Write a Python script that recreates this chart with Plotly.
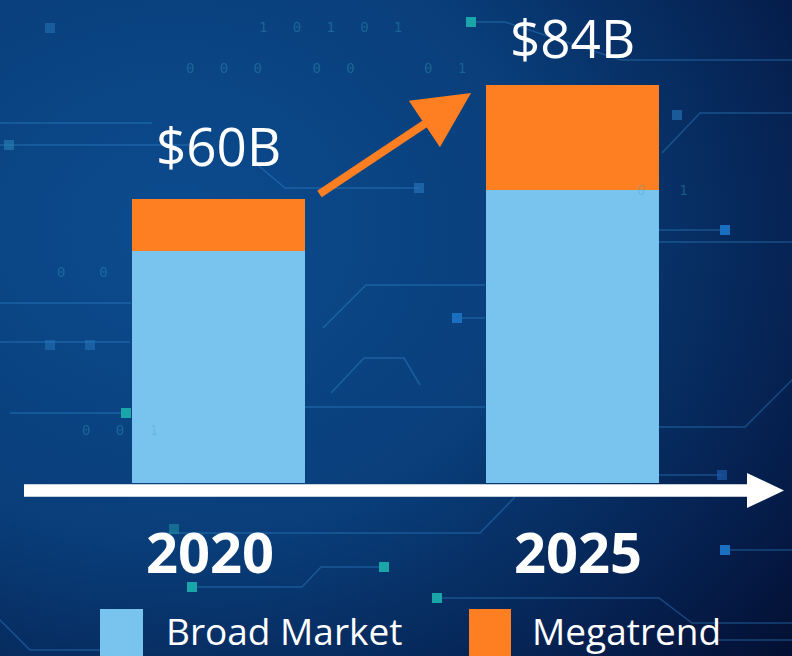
import base64
import plotly.graph_objects as go

# ---- data ----
years = ["2020", "2025"]
broad_market = [49, 62]
megatrend = [11, 22]
total_labels = ["$60B", "$84B"]
series_names = ["Broad Market", "Megatrend"]
series_colors = ["#79C4EE", "#FE7F22"]

W, H = 792, 656
FONT = "Open Sans"

# pixel helpers for decorations (layout only)
def px(x):
    return x / W

def py(y):
    return 1 - y / H

# ---- background gradient ----
svg = f"""<svg xmlns='http://www.w3.org/2000/svg' width='{W}' height='{H}'>
<defs><radialGradient id='g' cx='0.22' cy='0.35' r='1.05'>
<stop offset='0' stop-color='#0c4c8f'/>
<stop offset='0.45' stop-color='#093e7a'/>
<stop offset='0.8' stop-color='#051e4c'/>
<stop offset='1' stop-color='#030c2c'/>
</radialGradient></defs>
<rect width='{W}' height='{H}' fill='url(#g)'/>
</svg>"""
bg_uri = "data:image/svg+xml;base64," + base64.b64encode(svg.encode()).decode()

fig = go.Figure()
fig.add_trace(go.Bar(x=years, y=broad_market, name=series_names[0],
                     marker=dict(color=series_colors[0], line=dict(width=0)),
                     width=0.489, showlegend=False, hoverinfo="skip"))
fig.add_trace(go.Bar(x=years, y=megatrend, name=series_names[1],
                     marker=dict(color=series_colors[1], line=dict(width=0)),
                     width=0.489, showlegend=False, hoverinfo="skip"))

totals = [b + m for b, m in zip(broad_market, megatrend)]

annotations = []
# total labels above bars (category index positions)
label_shift = [54, 48]
for i, (tot, lab) in enumerate(zip(totals, total_labels)):
    annotations.append(dict(x=i, y=tot, xref="x", yref="y", text=lab,
                            showarrow=False, yanchor="middle", yshift=label_shift[i],
                            font=dict(family=FONT, size=53, color="white")))
# year labels under the axis arrow
year_shift = [-9, 5]
for i, yr in enumerate(years):
    annotations.append(dict(x=i, y=-14.3, xref="x", yref="y", text=f"<b>{yr}</b>",
                            showarrow=False, yanchor="middle", xshift=year_shift[i],
                            font=dict(family=FONT, size=56, color="white")))
# orange growth arrow
annotations.append(dict(x=px(471), y=py(93), xref="paper", yref="paper",
                        ax=-153, ay=102, axref="pixel", ayref="pixel", text="",
                        showarrow=True, arrowhead=2, arrowsize=1.4, arrowwidth=8,
                        arrowcolor=series_colors[1], standoff=0))
# legend texts
leg_text_x = [164, 530]
for name, lx in zip(series_names, leg_text_x):
    annotations.append(dict(x=px(lx), y=py(630), xref="paper", yref="paper",
                            text=name, showarrow=False, xanchor="left", yanchor="middle",
                            font=dict(family=FONT, size=37, color="white")))

# faint binary digits in background
binary = [("1   0   1   0   1", 330, 17), ("0   0   0      0   0", 270, 58),
          ("0   1", 445, 58), ("0    0", 55, 272), ("0   0   1", 80, 440),
          ("0    1", 690, 180)]
for txt, bx, by in binary:
    annotations.append(dict(x=px(bx), y=py(by), xref="paper", yref="paper", text=txt,
                            showarrow=False, font=dict(family="DejaVu Sans Mono", size=14,
                                                       color="rgba(60,170,200,0.35)")))

shapes = []
line_col = "rgba(50,140,210,0.4)"
circuit = [
    [(471, 22), (505, 22), (621, 60), (792, 60)],
    [(662, 153), (700, 113), (792, 113)],
    [(0, 123), (152, 123)],
    [(0, 145), (200, 145)],
    [(252, 160), (285, 188), (419, 188)],
    [(0, 303), (131, 303)],
    [(323, 328), (366, 285), (485, 285)],
    [(659, 230), (725, 230)],
    [(659, 242), (792, 242)],
    [(457, 318), (485, 318)],
    [(0, 342), (130, 342)],
    [(331, 393), (364, 358), (404, 358), (420, 385)],
    [(305, 407), (485, 407)],
    [(659, 427), (745, 427), (792, 380)],
    [(659, 475), (722, 475)],
    [(10, 413), (126, 413)],
    [(167, 533), (480, 533), (515, 497)],
    [(192, 587), (302, 587), (321, 567), (384, 567)],
    [(437, 598), (659, 598), (692, 623), (792, 623)],
    [(725, 550), (792, 550)],
    [(717, 640), (792, 640)],
    [(0, 620), (30, 650), (100, 650)],
]
for pts in circuit:
    path = "M " + " L ".join(f"{px(a):.5f},{py(b):.5f}" for a, b in pts)
    shapes.append(dict(type="path", xref="paper", yref="paper", path=path,
                       line=dict(color=line_col, width=1.5), layer="below"))
squares = [(471, 22, "#1aa6a8"), (677, 115, "rgba(40,120,190,0.6)"), (9, 145, "rgba(40,130,180,0.6)"),
           (50, 28, "rgba(40,120,190,0.5)"), (419, 188, "rgba(40,120,190,0.6)"),
           (725, 230, "#1a6fc0"), (457, 318, "#1a6fc0"), (722, 475, "rgba(30,90,170,0.7)"),
           (126, 413, "#1aa6a8"), (174, 529, "rgba(30,140,160,0.6)"), (192, 587, "#1aa6a8"),
           (384, 567, "#1aa6a8"), (437, 598, "#1aa6a8"), (725, 550, "#1a6fc0"),
           (50, 345, "rgba(40,120,190,0.5)"), (90, 345, "rgba(40,120,190,0.5)")]
for sx, sy, c in squares:
    shapes.append(dict(type="rect", xref="paper", yref="paper",
                       x0=px(sx - 5), x1=px(sx + 5), y0=py(sy + 5), y1=py(sy - 5),
                       fillcolor=c, line=dict(width=0), layer="below"))

# white axis arrow
shapes.append(dict(type="line", xref="paper", yref="paper",
                   x0=px(24), x1=px(750), y0=py(490.5), y1=py(490.5),
                   line=dict(color="white", width=12.4)))
shapes.append(dict(type="path", xref="paper", yref="paper",
                   path=f"M {px(747):.5f},{py(473):.5f} L {px(784):.5f},{py(490.5):.5f} L {px(747):.5f},{py(508):.5f} Z",
                   fillcolor="white", line=dict(width=0)))
# legend swatches
leg_sw = [(100, 143), (469, 511)]
for (x0, x1), c in zip(leg_sw, series_colors):
    shapes.append(dict(type="rect", xref="paper", yref="paper",
                       x0=px(x0), x1=px(x1), y0=py(660), y1=py(609),
                       fillcolor=c, line=dict(width=0)))

scale = 4.733  # px per unit
x_range = [-218.5 / 354, -218.5 / 354 + W / 354]
y_range = [(483 - H) / scale, 483 / scale]

fig.update_layout(
    width=W, height=H, barmode="stack",
    margin=dict(l=0, r=0, t=0, b=0),
    paper_bgcolor="#062a5c", plot_bgcolor="rgba(0,0,0,0)",
    xaxis=dict(visible=False, range=x_range, type="category", fixedrange=True),
    yaxis=dict(visible=False, range=y_range, fixedrange=True),
    images=[dict(source=bg_uri, xref="paper", yref="paper", x=0, y=1,
                 sizex=1, sizey=1, xanchor="left", yanchor="top",
                 sizing="stretch", layer="below")],
    annotations=annotations, shapes=shapes,
    font=dict(family=FONT),
    hovermode=False,
)

fig.write_html("out.html", config={"displayModeBar": False},
               post_script="document.body.style.margin='0';document.body.style.overflow='hidden';")
